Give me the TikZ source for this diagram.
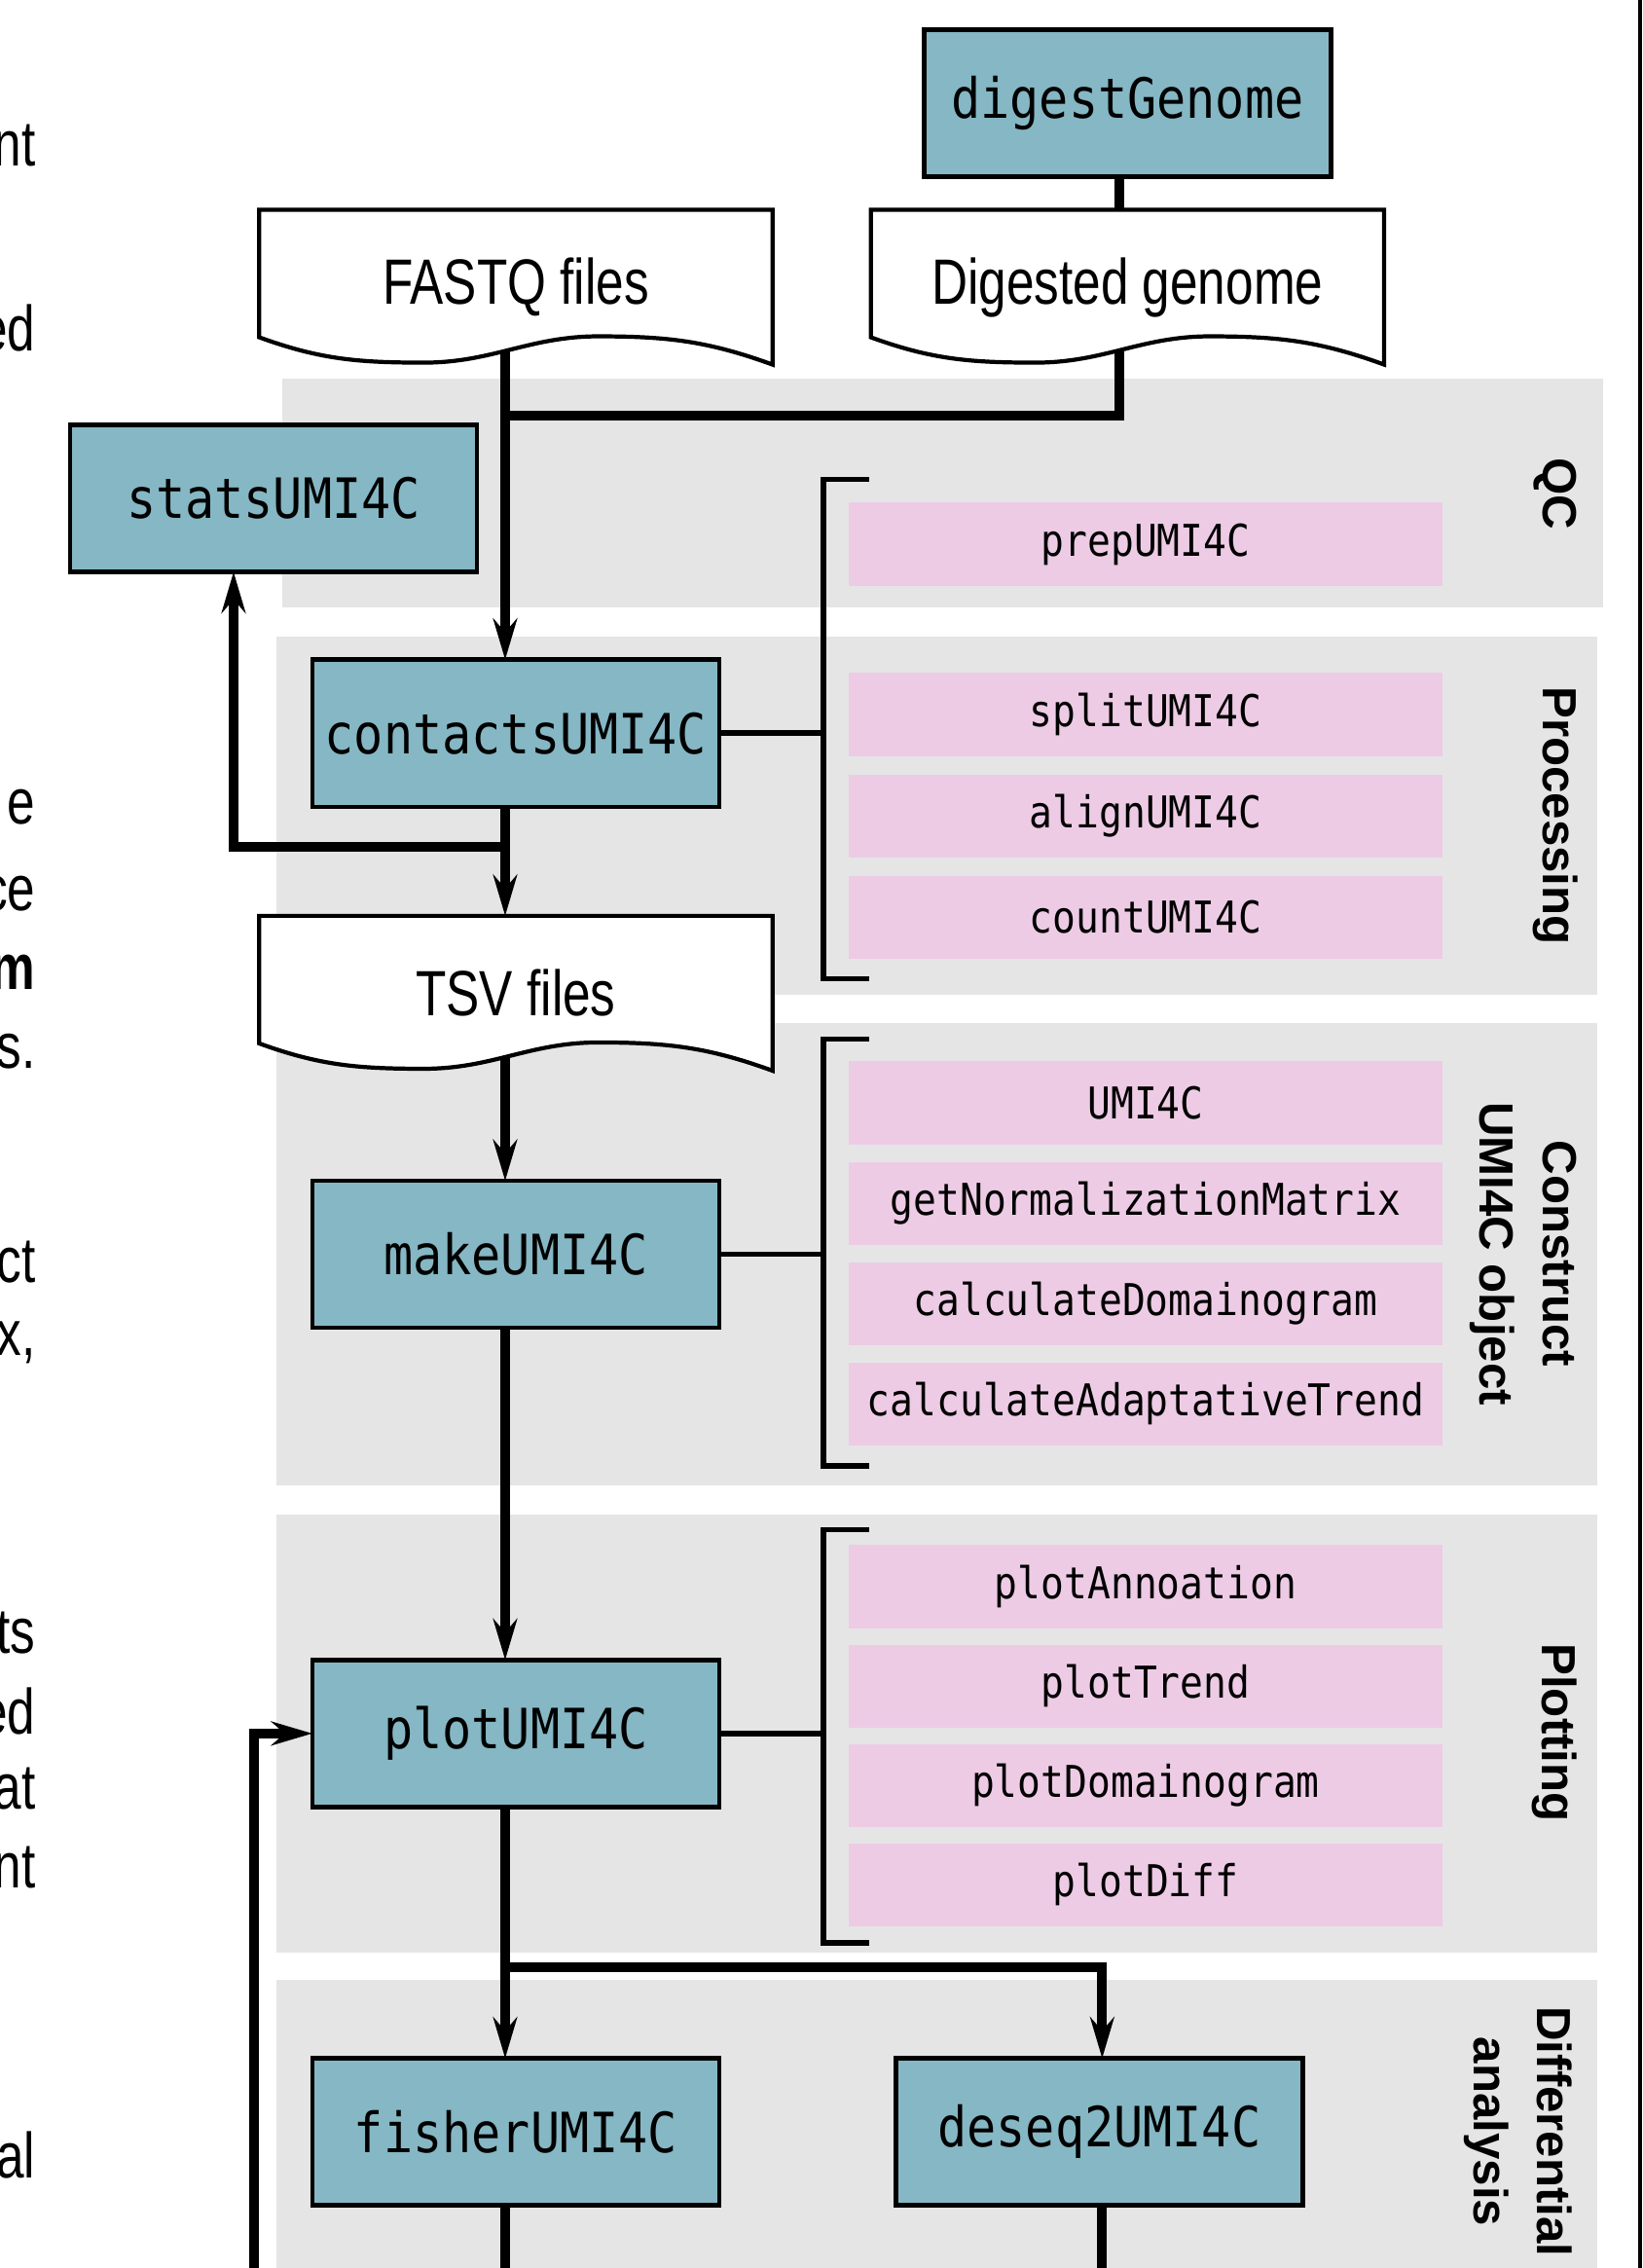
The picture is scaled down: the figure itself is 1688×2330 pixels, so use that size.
\documentclass[tikz,border=0pt]{standalone}
\usepackage{fontspec}
\setmainfont{Liberation Sans}
\newfontfamily\fnfont[FakeStretch=0.88]{DejaVu Sans Mono}
\newfontfamily\docfont[FakeStretch=0.78]{Liberation Sans}
\usepackage{tikz}
\usetikzlibrary{arrows.meta,positioning}
\usepackage{xcolor}
\definecolor{umiteal}{RGB}{133,183,196}
\definecolor{umipink}{RGB}{237,203,229}
\definecolor{umigray}{RGB}{229,229,229}
\pgfdeclarelayer{background}
\pgfsetlayers{background,main}
\tikzstyle{fnbox} = [rectangle, minimum width=4.18cm, minimum height=1.51cm, outer sep=0pt, text centered, draw=black, fill=umiteal, line width=1.3pt, font=\fnfont\fontsize{16.2}{19}\selectfont]
\tikzstyle{fnitem} = [rectangle, minimum width=6.1cm, minimum height=0.85cm, inner sep=2pt, outer sep=0pt, fill=umipink, font=\fnfont\fontsize{12.8}{15}\selectfont]
\tikzstyle{datafile} = [rectangle, minimum width=5.27cm, minimum height=1.59cm, outer sep=0pt, font=\docfont\fontsize{18.7}{22}\selectfont]
\tikzstyle{docline} = [line width=1.2pt, fill=white]
\tikzstyle{flow} = [line width=2.8pt]
\tikzstyle{arrow} = [flow, -{Stealth[length=12pt,width=7pt,inset=4pt]}]
\tikzstyle{brk} = [line width=1.6pt]
\tikzstyle{section} = [rotate=-90, align=center, font=\bfseries\fontsize{14}{18.5}\selectfont]
\tikzstyle{panel} = [fill=umigray]
\tikzstyle{cuttext} = [anchor=east, inner sep=0pt, font=\docfont\fontsize{18.7}{22}\selectfont]

\begin{document}
\begin{tikzpicture}[x=0.01cm, y=-0.01cm]
\useasboundingbox (0,0) rectangle (1688,2330);

% section panels
\begin{pgfonlayer}{background}
\fill[panel] (290,389) rectangle (1647,624);
\fill[panel] (284,654) rectangle (1641,1022);
\fill[panel] (284,1051) rectangle (1641,1526);
\fill[panel] (284,1556) rectangle (1641,2006);
\fill[panel] (284,2034) rectangle (1641,2345);
\end{pgfonlayer}
\draw[line width=1.4pt] (1685,0) -- (1685,2330);

% main column
\node (fastq) [datafile] at (530,295) {FASTQ files};
\node (digested) [datafile, right=1.01cm of fastq] {Digested genome};
\node (digest) [fnbox, above=0.34cm of digested] {digestGenome};
\node (contacts) [fnbox, below=3.03cm of fastq] {contactsUMI4C};
\node (stats) [fnbox] at (281,512) {statsUMI4C};
\node (tsv) [datafile, below=1.12cm of contacts] {TSV files};
\node (make) [fnbox, below=1.13cm of tsv] {makeUMI4C};
\node (plot) [fnbox, below=3.41cm of make] {plotUMI4C};
\node (fisher) [fnbox, below=2.58cm of plot] {fisherUMI4C};
\node (deseq) [fnbox, right=1.81cm of fisher] {deseq2UMI4C};

% document outlines
\begin{pgfonlayer}{background}
\foreach \n in {fastq,digested,tsv}
  \draw[docline] (\n.north west) -- (\n.north east) -- (\n.south east)
    to[out=160,in=0] ([xshift=-1.79cm,yshift=0.29cm]\n.south east)
    to[out=180,in=0] ([xshift=1.69cm,yshift=0.02cm]\n.south west)
    to[out=180,in=-20] ([yshift=0.28cm]\n.south west) -- cycle;
\end{pgfonlayer}

% functions
\node (prep) [fnitem] at (1177,559) {prepUMI4C};
\node (split) [fnitem] at (1177,734) {splitUMI4C};
\node (align) [fnitem, below=0.19cm of split] {alignUMI4C};
\node (count) [fnitem, below=0.19cm of align] {countUMI4C};
\node (umi) [fnitem] at (1177,1133) {UMI4C};
\node (norm) [fnitem, below=0.18cm of umi] {getNormalizationMatrix};
\node (domcalc) [fnitem, below=0.18cm of norm] {calculateDomainogram};
\node (trendcalc) [fnitem, below=0.18cm of domcalc] {calculateAdaptativeTrend};
\node (annot) [fnitem] at (1177,1630) {plotAnnoation};
\node (trendplot) [fnitem, below=0.17cm of annot] {plotTrend};
\node (domplot) [fnitem, below=0.17cm of trendplot] {plotDomainogram};
\node (diffplot) [fnitem, below=0.17cm of domplot] {plotDiff};

% section labels
\node (qclab) [section] at (1598,507) {QC};
\node (proclab) [section] at (1598,838) {Processing};
\node (conslab) [section] at (1565,1288) {Construct\\UMI4C object};
\node (plotlab) [section] at (1597,1780) {Plotting};
\node (difflab) [section] at (1560,2190) {Differential\\analysis};

% brackets
\coordinate (brx) at (846,0);
\draw[brk] ([xshift=0.21cm,yshift=0.24cm]prep.north west) -| ([xshift=-0.26cm,yshift=-0.21cm]count.south west) -- ++(47,0);
\draw[brk] ([xshift=0.21cm,yshift=0.23cm]umi.north west) -| ([xshift=-0.26cm,yshift=-0.21cm]trendcalc.south west) -- ++(47,0);
\draw[brk] ([xshift=0.21cm,yshift=0.16cm]annot.north west) -| ([xshift=-0.26cm,yshift=-0.17cm]diffplot.south west) -- ++(47,0);
\draw[brk] (contacts.east) -- (contacts.east -| brx);
\draw[brk] (make.east) -- (make.east -| brx);
\draw[brk] (plot.east) -- (plot.east -| brx);

% flow
\coordinate (join1) at (519,427);
\coordinate (join2) at (519,870);
\coordinate (join3) at (519,2021);
\coordinate (bottom) at (0,2345);
\coordinate (loop) at (261,2345);
\draw[arrow] ([xshift=-1.1mm,yshift=1.5mm]fastq.south) -- ([xshift=-1.1mm]contacts.north);
\draw[flow] ([xshift=-0.8mm]digest.south) -- ([xshift=-0.8mm]digested.north);
\draw[flow] ([xshift=-0.8mm,yshift=1.5mm]digested.south) |- (join1);
\draw[arrow] ([xshift=-1.1mm]contacts.south) -- ([xshift=-1.1mm]tsv.north);
\draw[arrow] (join2) -| ([xshift=-4.1mm]stats.south);
\draw[arrow] ([xshift=-1.1mm,yshift=1.5mm]tsv.south) -- ([xshift=-1.1mm]make.north);
\draw[arrow] ([xshift=-1.1mm]make.south) -- ([xshift=-1.1mm]plot.north);
\draw[arrow] ([xshift=-1.1mm]plot.south) -- ([xshift=-1.1mm]fisher.north);
\draw[arrow] (join3) -| ([xshift=0.3mm]deseq.north);
\draw[flow] ([xshift=-1.1mm]fisher.south) -- ([xshift=-1.1mm]fisher.south |- bottom);
\draw[flow] ([xshift=0.3mm]deseq.south) -- ([xshift=0.3mm]deseq.south |- bottom);
\draw[arrow] (loop) |- (plot.west);

% cut-off text at the left edge
\node (frag1) [cuttext] at (37,149) {nt};
\node (frag2) [cuttext] at (37,337) {ed};
\node (frag3) [cuttext] at (37,829) {e};
\node (frag4) [cuttext] at (37,918) {ce};
\node (frag5) [cuttext] at (37,999) {\bfseries m};
\node (frag6) [cuttext] at (37,1080) {s.};
\node (frag7) [cuttext] at (37,1297) {ct};
\node (frag8) [cuttext] at (37,1379) {x,};
\node (frag9) [cuttext] at (37,1678) {ts};
\node (frag10) [cuttext] at (37,1758) {ed};
\node (frag11) [cuttext] at (37,1838) {at};
\node (frag12) [cuttext] at (37,1918) {nt};
\node (frag13) [cuttext] at (37,2214) {al};
\end{tikzpicture}
\end{document}
